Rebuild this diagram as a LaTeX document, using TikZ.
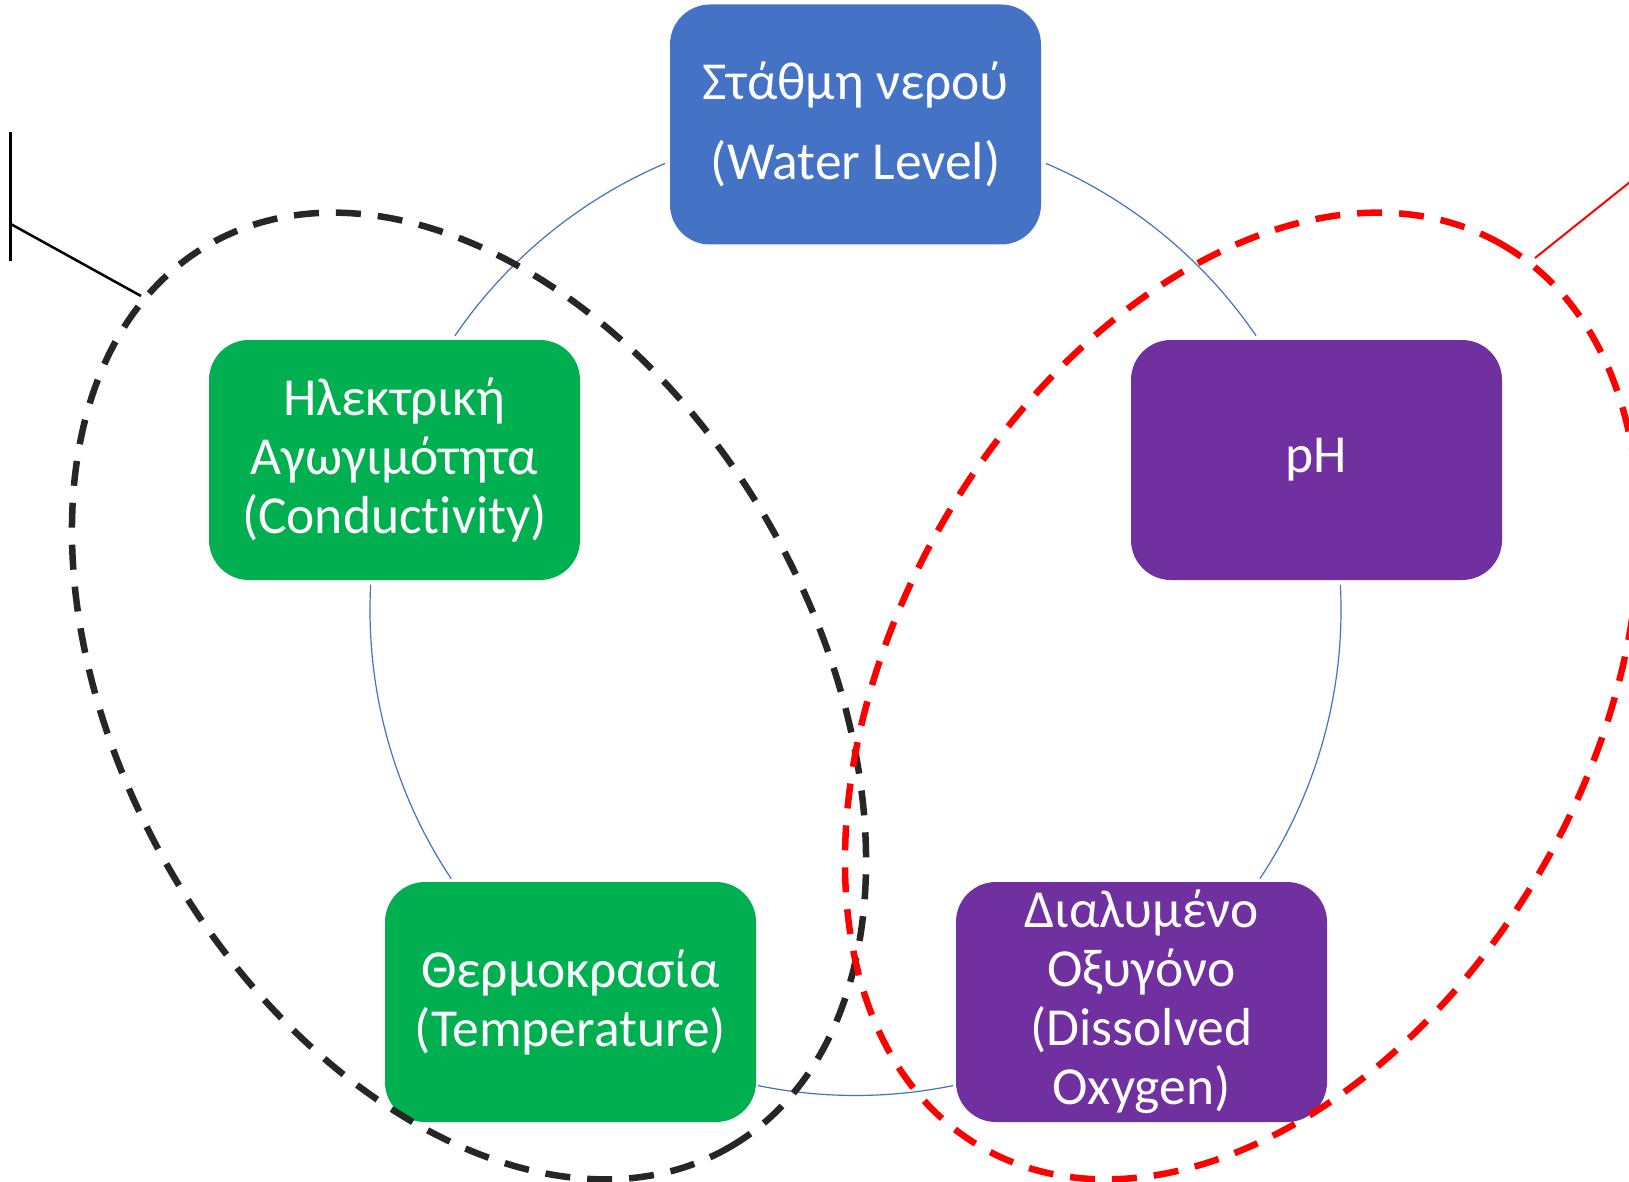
\documentclass[tikz,border=0pt]{standalone}
\usepackage{fontspec}
\setmainfont{Carlito}[Ligatures=NoCommon, RawFeature={-liga;-dlig;-clig}]
\definecolor{cycleblue}{HTML}{4472C4}
\definecolor{boxgreen}{HTML}{00B050}
\definecolor{boxpurple}{HTML}{7030A0}
\definecolor{darkgrey}{HTML}{262626}
\begin{document}
\begin{tikzpicture}[x=1pt,y=1pt,
  box/.style={rounded corners=40pt, minimum width=371pt, minimum height=240pt,
    inner sep=0pt, text=white, align=center, font=\fontsize{53.5}{59}\selectfont},
  cyclearc/.style={draw=cycleblue, line width=1.2pt},
  groupring/.style={line width=6.5pt, dash pattern=on 25pt off 17pt},
  callout/.style={line width=2.5pt}
]
% page frame
\clip (0,0) rectangle (1629,-1182);
\fill[white] (0,0) rectangle (1629,-1182);

% centre of the cycle
\coordinate (c) at (855.5,-610);
\def\R{485.5}

% cycle arcs between the boxes
\draw[cyclearc] ([shift={(66.9:\R)}]c) arc[start angle=66.9, end angle=34.4, radius=\R];
\draw[cyclearc] ([shift={(3:\R)}]c) arc[start angle=3, end angle=-33.6, radius=\R];
\draw[cyclearc] ([shift={(-78.4:\R)}]c) arc[start angle=-78.4, end angle=-101.6, radius=\R];
\draw[cyclearc] ([shift={(213.6:\R)}]c) arc[start angle=213.6, end angle=177, radius=\R];
\draw[cyclearc] ([shift={(145.6:\R)}]c) arc[start angle=145.6, end angle=113.1, radius=\R];

% parameter boxes
\node[box, fill=cycleblue, font=\fontsize{53.5}{80}\selectfont] (level) at (855.5,-124.5)
  {Στάθμη νερού\\(Water Level)};
\node[box, fill=boxgreen] (cond) at (394.5,-460)
  {Ηλεκτρική\\Αγωγιμότητα\\(Conductivity)};
\node[box, fill=boxpurple] (ph) at (1316.5,-460) {pH};
\node[box, fill=boxgreen] (temp) at (570.5,-1002)
  {Θερμοκρασία\\(Temperature)};
\node[box, fill=boxpurple] (oxy) at (1141.5,-1002)
  {Διαλυμένο\\Οξυγόνο\\(Dissolved\\Oxygen)};

% dashed group rings
\draw[groupring, draw=darkgrey, rotate around={-60:(469,-696)}]
  (469,-696) ellipse [x radius=521, y radius=346];
\draw[groupring, draw=red, rotate around={60:(1242,-696)}]
  (1242,-696) ellipse [x radius=521, y radius=346];

% callout lines
\coordinate (bktop) at (10.7,-132);
\coordinate (bkbot) at (10.7,-261);
\coordinate (bkjoin) at (10.7,-224);
\coordinate (bkend) at (141,-296);
\draw[callout, black] (bktop) -- (bkbot);
\draw[callout, black] (bkjoin) -- (bkend);
\coordinate (rdend) at (1535,-258);
\coordinate (rdout) at (1680,-142);
\draw[line width=2pt, red] (rdend) -- (rdout);
\end{tikzpicture}
\end{document}
